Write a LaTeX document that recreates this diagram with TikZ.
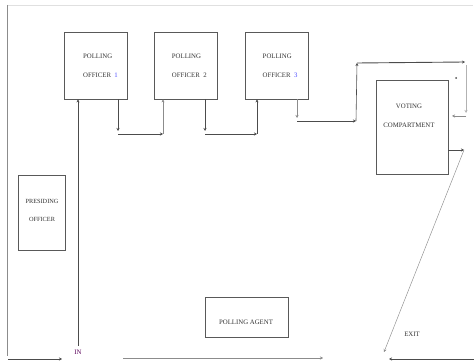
\documentclass[tikz,border=0pt]{standalone}
\usepackage{fontspec}
\setmainfont{Liberation Serif}
\usetikzlibrary{arrows.meta,positioning}

\begin{document}
\begin{tikzpicture}[x=1pt, y=-1pt,
    room/.style={rectangle, draw=black!65, line width=0.8pt, inner sep=0pt,
    text=black!80, font=\fontsize{6.8}{19}\selectfont},
    officer/.style={room, minimum width=63pt, minimum height=67pt, align=left},
    lbl/.style={text=black!80, font=\fontsize{6.8}{19}\selectfont, inner sep=0pt},
    flow/.style={draw=black!70, line width=0.6pt, -{Stealth[length=3pt,width=3pt]}},
    thin flow/.style={flow, draw=black!45, line width=0.45pt}]
    \useasboundingbox (0,0) rectangle (474,363);

    % hall outline
    \draw[black!12, line width=0.8pt] (7,5) -- (473,5);
    \draw[black!45, line width=0.6pt] (7,5) -- (7,356);

    \node (po1) [officer] at (96,65.5) {\hspace*{9pt}POLLING\\\hspace*{9pt}OFFICER\ \ {\color{blue!70}1}};
    \node (po2) [officer, right=26pt of po1] {\hspace*{7pt}POLLING\\\hspace*{7pt}OFFICER\ \ 2};
    \node (po3) [officer, right=27pt of po2] {\hspace*{7pt}POLLING\\\hspace*{7pt}OFFICER\ \ {\color{blue!70}3}};

    \node (presiding) [room, minimum width=47pt, minimum height=75pt] at (41.5,212.5) {};
    \node (presidingtext) [lbl, align=center, font=\fontsize{6.3}{18}\selectfont] at (42,210) {PRESIDING\\OFFICER};

    \node (voting) [room, minimum width=72pt, minimum height=94pt] at (412,127) {};
    \node (votingtext) [lbl, align=center] at (409,116) {VOTING\\COMPARTMENT};

    \node (agent) [room, minimum width=83pt, minimum height=40pt] at (246.5,317) {};
    \node (agenttext) [lbl] at (246,322) {POLLING AGENT};

    \node (in) [lbl, text=violet!70!black] at (78,352) {IN};
    \node (exit) [lbl] at (412,334) {EXIT};

    % turning points
    \coordinate (inlow) at (78,346);
    \coordinate (a1) at (118,131);
    \coordinate (a2) at (163,134);
    \coordinate (b1) at (205,131);
    \coordinate (b2) at (257,134);
    \coordinate (c1) at (297,118);
    \coordinate (c2) at (356,121);
    \coordinate (c3) at (357,63);
    \coordinate (c4) at (465,62);
    \coordinate (d1) at (466,113);
    \coordinate (d2) at (452,116);
    \coordinate (e1) at (464,150);
    \coordinate (doorin) at (8,359);
    \coordinate (doorend) at (62,359);
    \coordinate (mida) at (123,358);
    \coordinate (midb) at (323,358);
    \coordinate (doorout) at (474,359);
    \coordinate (exitend) at (389,359);

    \draw[flow] (inlow) -- (inlow |- po1.south);
    \draw[flow] (a1 |- po1.south) -- (a1);
    \draw[flow] (a1 |- a2) -- (a2);
    \draw[thin flow] (a2) -- (a2 |- po2.south);
    \draw[flow] (b1 |- po2.south) -- (b1);
    \draw[flow] (b1 |- b2) -- (b2);
    \draw[flow] (b2) -- (b2 |- po3.south);
    \draw[thin flow] (c1 |- po3.south) -- (c1);
    \draw[flow] (c1 |- c2) -- (c2);
    \draw[flow] (c2) -- (c3);
    \draw[flow, line width=0.9pt] (c3) -- (c4);
    \draw[thin flow, draw=black!30] (466,65) -- (d1);
    \draw[thin flow] (d1 |- d2) -- (d2);
    \fill[black!70] (456,78) circle (1pt);
    \draw[flow] (voting.east |- e1) -- (e1);
    \draw[thin flow] (e1) -- (384,352);

    \draw[flow, line width=0.9pt] (doorin) -- (doorend);
    \draw[thin flow] (mida) -- (midb);
    \draw[flow, line width=0.9pt] (doorout) -- (exitend);
\end{tikzpicture}
\end{document}
